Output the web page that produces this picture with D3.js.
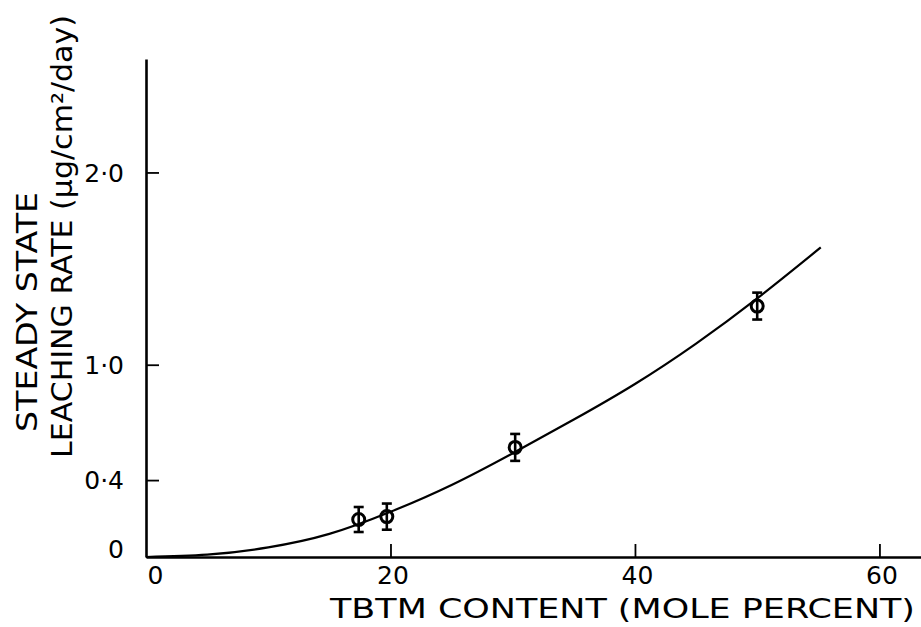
<!DOCTYPE html>
<html>
<head>
<meta charset="utf-8">
<script src="https://cdn.jsdelivr.net/npm/d3@7"></script>
<style>
  html, body { margin: 0; padding: 0; background: #fff; }
  svg { display: block; }
  text { font-family: "DejaVu Sans", sans-serif; fill: #000; }
</style>
</head>
<body>
<svg id="chart" width="921" height="627"></svg>
<script>
// Measured leaching rates (µg/cm²/day) against TBTM content (mole percent)
const tbtmContent = [17.4, 19.7, 30.2, 50.0];
const leachRate   = [0.195, 0.21, 0.57, 1.305];
const rateError   = [0.065, 0.068, 0.07, 0.07];

// Fitted curve through the data
const curveX = [0, 5, 10, 15, 20, 25, 30, 35, 40, 45, 50, 55.2];
const curveY = [0, 0.012, 0.05, 0.12, 0.235, 0.375, 0.54, 0.715, 0.90, 1.11, 1.345, 1.61];

// Tick values and their printed labels
const xTicks = [0, 20, 40, 60];
const xTickLabels = ["0", "20", "40", "60"];
const yTicks = [0, 0.4, 1.0, 2.0];
const yTickLabels = ["0", "0·4", "1·0", "2·0"];

const svg = d3.select("#chart");

const x = d3.scaleLinear().domain([0, 63.4]).range([146, 921]);
const y = d3.scaleLinear().domain([0, 2.59]).range([557, 59]);

// X axis: ticks point up into the plot
const xAxis = d3.axisBottom(x)
  .tickValues(xTicks)
  .tickFormat((d, i) => xTickLabels[i])
  .tickSizeInner(-13)
  .tickSizeOuter(0)
  .tickPadding(9);

const gx = svg.append("g")
  .attr("transform", `translate(0,${y(0)})`)
  .call(xAxis);
gx.select(".domain").attr("stroke", "#000").attr("stroke-width", 2.6);
gx.selectAll(".tick line").attr("stroke", "#000").attr("stroke-width", 1.8)
  .attr("display", d => d === 0 ? "none" : null);
gx.selectAll(".tick text")
  .attr("font-size", 25)
  .attr("font-family", "DejaVu Sans, sans-serif")
  .attr("dx", d => d === 0 ? 9 : 2);

// Y axis: ticks point right into the plot
const yAxis = d3.axisLeft(y)
  .tickValues(yTicks)
  .tickFormat((d, i) => yTickLabels[i])
  .tickSizeInner(-13)
  .tickSizeOuter(0)
  .tickPadding(22);

const gy = svg.append("g")
  .attr("transform", `translate(${x(0)},0)`)
  .call(yAxis);
gy.select(".domain").attr("stroke", "#000").attr("stroke-width", 2.6);
gy.selectAll(".tick line").attr("stroke", "#000").attr("stroke-width", 1.8)
  .attr("display", d => d === 0 ? "none" : null);
gy.selectAll(".tick text")
  .attr("font-size", 25)
  .attr("font-family", "DejaVu Sans, sans-serif")
  .attr("dy", d => d === 0 ? "0.0em" : "0.35em");

// Fitted curve
const line = d3.line()
  .x((d, i) => x(curveX[i]))
  .y(d => y(d))
  .curve(d3.curveNatural);

svg.append("path")
  .datum(curveY)
  .attr("d", line)
  .attr("fill", "none")
  .attr("stroke", "#000")
  .attr("stroke-width", 2.2);

// Data points with error bars
const pts = svg.append("g");
tbtmContent.forEach((cx, i) => {
  const px = x(cx);
  const top = y(leachRate[i] + rateError[i]);
  const bot = y(leachRate[i] - rateError[i]);
  const g = pts.append("g");
  g.append("line").attr("x1", px).attr("x2", px).attr("y1", top).attr("y2", bot)
    .attr("stroke", "#000").attr("stroke-width", 2.6);
  [top, bot].forEach(cy => {
    g.append("line").attr("x1", px - 5).attr("x2", px + 5).attr("y1", cy).attr("y2", cy)
      .attr("stroke", "#000").attr("stroke-width", 2.6);
  });
  g.append("circle").attr("cx", px).attr("cy", y(leachRate[i])).attr("r", 6)
    .attr("fill", "none").attr("stroke", "#000").attr("stroke-width", 3);
});

// Axis titles
svg.append("text")
  .attr("x", 330).attr("y", 618)
  .attr("font-size", 26)
  .attr("textLength", 585)
  .attr("lengthAdjust", "spacingAndGlyphs")
  .text("TBTM CONTENT (MOLE PERCENT)");

svg.append("text")
  .attr("transform", "translate(37,432) rotate(-90)")
  .attr("font-size", 29)
  .attr("textLength", 240)
  .attr("lengthAdjust", "spacingAndGlyphs")
  .text("STEADY STATE");

svg.append("text")
  .attr("transform", "translate(72,458) rotate(-90)")
  .attr("font-size", 28)
  .attr("textLength", 443)
  .attr("lengthAdjust", "spacingAndGlyphs")
  .text("LEACHING RATE (μg/cm²/day)");
</script>
</body>
</html>
